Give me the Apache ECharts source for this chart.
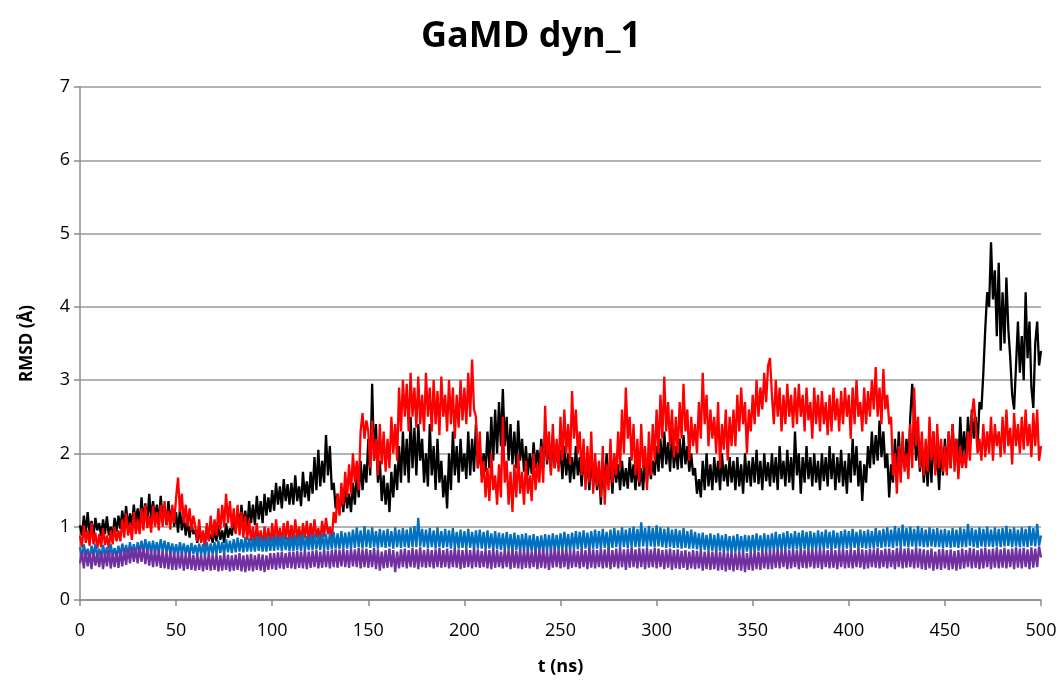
<!DOCTYPE html>
<html>
<head>
<meta charset="utf-8">
<script src="https://cdn.jsdelivr.net/npm/echarts@6/dist/echarts.min.js"></script>
<style>html,body{margin:0;padding:0;background:#fff;}#c{width:1062px;height:683px;}</style>
</head>
<body>
<div id="c"></div>
<script>
const TITLE = 'GaMD dyn_1';
const X_NAME = 't (ns)';
const Y_NAME = 'RMSD (Å)';
const T_START = 0, T_STEP = 1; // sampling grid in ns

const black = [
1.02,0.88,1.15,0.92,1.2,0.9,1.08,0.86,1.12,0.95,
1.05,0.87,1.1,0.9,1.14,0.88,1.0,0.85,1.12,0.93,
1.15,0.97,1.22,1.0,1.28,0.98,1.18,1.02,1.3,1.05,
1.25,1.02,1.4,1.08,1.32,1.05,1.45,1.1,1.35,1.12,
1.3,1.05,1.42,1.1,1.28,1.02,1.35,1.08,1.25,1.0,
1.2,0.92,1.25,0.95,1.15,0.88,1.1,0.85,1.05,0.9,
0.95,0.78,0.98,0.8,0.92,0.76,1.0,0.82,0.9,0.78,
0.96,0.8,1.02,0.82,0.95,0.78,1.05,0.85,0.98,0.88,
1.1,0.92,1.25,0.95,1.3,1.0,1.22,0.95,1.35,1.05,
1.3,1.02,1.42,1.1,1.35,1.05,1.45,1.15,1.4,1.2,
1.5,1.22,1.6,1.3,1.55,1.25,1.65,1.35,1.58,1.3,
1.6,1.3,1.7,1.35,1.55,1.28,1.75,1.4,1.62,1.35,
1.75,1.45,1.95,1.5,2.05,1.55,1.9,1.6,2.25,1.7,
2.1,1.5,1.6,1.25,1.45,1.18,1.5,1.2,1.55,1.25,
1.45,1.2,1.6,1.3,1.75,1.4,1.9,1.5,1.85,1.6,
2.2,1.7,2.95,1.9,2.4,1.6,1.9,1.35,1.7,1.3,
1.6,1.2,1.75,1.4,1.85,1.5,2.1,1.6,2.3,1.7,
2.2,1.6,2.5,1.8,2.35,1.7,2.4,1.9,2.2,1.6,
2.0,1.55,2.4,1.7,2.1,1.5,2.2,1.6,1.9,1.4,
1.7,1.25,2.0,1.5,2.3,1.7,2.1,1.6,2.2,1.75,
2.0,1.65,2.3,1.7,2.2,1.75,2.4,1.8,2.1,1.7,
2.0,1.75,2.3,1.8,2.5,1.9,2.6,2.0,2.7,2.1,
2.88,2.1,2.5,1.9,2.4,1.85,2.3,1.8,2.45,1.9,
2.2,1.75,2.1,1.7,2.0,1.72,2.15,1.8,2.05,1.78,
2.2,1.8,2.3,1.85,2.15,1.75,2.25,1.8,2.1,1.8,
2.05,1.65,2.1,1.7,2.0,1.6,1.95,1.65,2.1,1.7,
1.95,1.55,2.0,1.6,1.9,1.5,1.95,1.55,1.85,1.5,
1.8,1.3,1.9,1.55,2.0,1.6,1.85,1.45,1.95,1.6,
1.85,1.5,1.9,1.55,1.8,1.52,1.95,1.6,1.85,1.5,
1.9,1.55,1.8,1.5,1.95,1.6,2.0,1.65,1.9,1.7,
2.1,1.75,2.2,1.8,2.3,1.85,2.15,1.75,2.25,1.8,
2.1,1.78,2.2,1.8,2.25,1.85,2.1,1.75,2.0,1.7,
1.8,1.45,1.65,1.4,1.9,1.5,2.0,1.55,1.85,1.5,
1.95,1.6,1.9,1.5,2.0,1.62,1.85,1.55,1.95,1.6,
1.9,1.5,1.95,1.55,1.85,1.45,2.0,1.6,1.9,1.55,
1.95,1.6,2.05,1.58,1.9,1.5,2.0,1.62,1.88,1.55,
2.0,1.6,1.95,1.5,2.1,1.65,1.9,1.55,2.05,1.6,
1.95,1.5,2.3,1.7,2.0,1.45,1.95,1.6,2.1,1.65,
1.95,1.55,2.0,1.6,1.9,1.5,2.0,1.62,1.95,1.55,
2.1,1.65,2.0,1.5,1.95,1.6,2.05,1.55,1.9,1.45,
2.0,1.6,2.2,1.7,2.1,1.55,1.9,1.35,1.85,1.6,
2.1,1.8,2.3,1.85,2.25,1.9,2.45,1.95,2.3,1.8,
2.0,1.4,1.85,1.6,2.2,1.7,2.3,1.75,2.1,1.8,
2.2,1.85,2.5,2.95,2.4,1.9,2.2,1.75,2.1,1.6,
2.0,1.55,2.1,1.6,2.3,1.75,2.0,1.5,2.1,1.7,
2.2,1.75,2.3,1.8,2.4,1.9,2.2,1.85,2.5,1.95,
2.3,1.9,2.5,2.05,2.6,2.2,2.5,2.1,2.7,2.6,
3.1,3.7,4.2,4.0,4.88,4.1,4.5,3.6,4.6,3.4,
4.2,3.5,4.4,3.7,3.3,2.8,2.6,3.2,3.8,3.1,
3.6,3.0,4.2,3.3,3.8,2.9,2.62,3.5,3.8,3.2,
3.4
];

const red = [
0.88,0.72,1.02,0.78,0.95,0.74,1.05,0.76,0.92,0.7,
0.9,0.72,0.98,0.75,0.88,0.7,0.95,0.76,1.0,0.8,
0.95,0.8,1.1,0.85,1.18,0.88,1.05,0.82,1.2,0.9,
1.1,0.9,1.25,0.95,1.3,0.98,1.15,0.92,1.28,1.0,
1.2,0.95,1.3,1.0,1.35,1.02,1.22,0.96,1.3,1.05,
1.4,1.67,1.2,1.45,1.05,1.3,1.0,1.25,0.95,1.15,
1.0,0.8,1.1,0.78,0.95,0.72,1.05,0.8,1.15,0.85,
1.1,0.88,1.25,0.95,1.3,1.0,1.45,1.05,1.35,0.98,
1.25,0.9,1.3,0.88,1.2,0.85,1.15,0.82,1.1,0.8,
1.0,0.75,1.05,0.78,0.95,0.72,1.0,0.76,0.98,0.74,
1.05,0.78,1.1,0.8,0.98,0.76,1.05,0.82,1.08,0.8,
1.02,0.8,1.1,0.82,1.0,0.78,1.05,0.84,1.08,0.8,
1.05,0.82,1.1,0.85,0.98,0.8,1.08,0.86,1.12,0.9,
1.0,0.8,1.2,1.05,1.45,1.15,1.6,1.3,1.75,1.4,
1.85,1.45,2.0,1.6,1.9,1.5,2.3,2.55,2.2,2.45,
2.3,1.8,2.45,1.9,2.2,1.7,2.4,1.85,2.3,1.75,
2.2,1.8,2.5,2.0,2.4,1.9,2.9,2.3,3.0,2.5,
2.95,2.3,3.1,2.5,2.9,2.35,3.05,2.4,2.8,2.3,
3.1,2.5,2.9,2.3,3.0,2.4,2.85,2.25,3.05,2.5,
2.8,2.3,3.0,2.4,2.9,2.2,2.8,2.35,3.0,2.45,
2.9,2.4,3.1,2.5,3.28,2.6,2.5,1.8,2.3,1.6,
1.9,1.4,1.8,1.35,2.0,1.5,1.7,1.3,1.85,1.4,
2.5,1.6,1.9,1.3,1.75,1.2,1.85,1.4,2.0,1.45,
1.75,1.3,1.9,1.45,1.7,1.35,2.0,1.5,1.85,1.6,
2.1,1.6,2.65,1.9,2.3,1.7,2.4,1.8,2.2,1.75,
2.5,1.9,2.6,2.0,2.4,1.85,2.85,2.2,2.6,2.0,
2.3,1.7,2.2,1.5,2.1,1.6,2.3,1.45,2.0,1.55,
1.9,1.4,2.1,1.3,1.85,1.5,2.2,1.6,2.0,1.7,
2.3,1.8,2.6,2.0,2.9,2.2,2.5,1.9,2.4,1.7,
2.2,1.6,2.4,1.8,2.1,1.5,2.3,1.7,2.4,1.9,
2.6,2.0,2.8,2.2,3.05,2.3,2.7,2.1,2.6,1.95,
2.5,2.0,2.7,2.2,2.95,2.3,2.6,1.9,2.5,2.1,
2.4,2.0,2.7,2.2,3.1,2.4,2.8,2.1,2.6,2.2,
2.5,2.0,2.7,1.8,2.4,2.05,2.6,1.9,2.5,2.1,
2.6,2.1,2.8,2.3,2.9,2.4,2.7,2.0,2.6,2.3,
2.8,2.4,3.0,2.5,2.9,2.6,3.1,2.7,3.2,3.3,
2.8,2.4,3.0,2.5,2.9,2.3,2.8,2.4,2.95,2.5,
2.8,2.35,2.9,2.4,2.95,2.5,2.8,2.3,2.9,2.45,
2.7,2.2,2.9,2.4,2.8,2.3,2.85,2.4,2.7,2.25,
2.8,2.3,2.9,2.45,2.75,2.3,2.85,2.4,2.9,2.5,
2.8,2.2,2.9,2.4,3.0,2.5,2.7,2.3,2.9,2.4,
2.85,2.5,3.0,2.6,3.18,2.5,2.9,2.4,3.15,2.6,
2.8,2.4,2.5,1.7,2.0,1.45,2.1,1.6,2.3,1.75,
2.0,1.65,2.4,1.8,2.9,2.1,2.5,1.8,2.3,1.7,
2.2,1.75,2.5,1.9,2.3,1.7,2.4,1.8,2.2,1.75,
2.1,1.7,2.3,1.8,2.4,1.75,2.2,1.65,2.1,1.8,
2.0,1.8,2.3,1.9,2.5,2.75,2.4,2.0,2.2,1.9,
2.4,1.95,2.3,2.0,2.5,1.9,2.4,2.1,2.3,1.95,
2.5,2.0,2.6,2.1,2.35,1.85,2.55,2.1,2.4,2.0,
2.5,2.05,2.6,2.1,2.4,1.95,2.55,2.1,2.6,1.9,
2.1
];

const blue = [
0.72,0.58,0.76,0.6,0.7,0.56,0.74,0.6,0.77,0.58,
0.7,0.57,0.75,0.6,0.72,0.58,0.76,0.6,0.71,0.58,
0.74,0.6,0.77,0.62,0.75,0.6,0.79,0.63,0.76,0.62,
0.79,0.64,0.81,0.65,0.83,0.66,0.8,0.64,0.81,0.65,
0.79,0.64,0.83,0.66,0.81,0.65,0.79,0.63,0.77,0.62,
0.76,0.62,0.79,0.63,0.77,0.62,0.75,0.61,0.78,0.63,
0.75,0.61,0.77,0.62,0.76,0.6,0.79,0.63,0.77,0.62,
0.79,0.63,0.81,0.64,0.79,0.63,0.83,0.65,0.81,0.64,
0.83,0.65,0.85,0.66,0.83,0.65,0.86,0.66,0.84,0.66,
0.85,0.66,0.87,0.67,0.86,0.66,0.85,0.66,0.87,0.67,
0.86,0.67,0.89,0.68,0.87,0.67,0.89,0.68,0.86,0.67,
0.87,0.67,0.89,0.68,0.88,0.67,0.9,0.68,0.87,0.68,
0.89,0.68,0.91,0.69,0.89,0.68,0.91,0.69,0.9,0.68,
0.91,0.69,0.93,0.7,0.91,0.69,0.94,0.7,0.92,0.7,
0.93,0.7,0.96,0.71,0.99,0.72,0.95,0.7,1.01,0.72,
0.96,0.71,0.99,0.72,0.94,0.7,0.97,0.72,0.95,0.71,
0.97,0.72,0.94,0.7,0.99,0.72,0.96,0.71,0.98,0.72,
0.96,0.71,0.99,0.72,1.01,0.72,1.12,0.73,0.97,0.72,
0.96,0.71,0.98,0.72,0.95,0.7,0.99,0.72,0.94,0.71,
0.97,0.72,0.95,0.7,0.98,0.71,0.93,0.7,0.96,0.71,
0.94,0.7,0.97,0.71,0.93,0.69,0.95,0.7,0.96,0.7,
0.93,0.69,0.95,0.7,0.91,0.68,0.94,0.69,0.92,0.68,
0.91,0.68,0.93,0.68,0.9,0.67,0.92,0.68,0.89,0.67,
0.9,0.67,0.91,0.67,0.88,0.66,0.9,0.66,0.87,0.66,
0.88,0.66,0.9,0.67,0.89,0.66,0.91,0.68,0.89,0.67,
0.91,0.68,0.93,0.69,0.9,0.67,0.92,0.69,0.94,0.69,
0.93,0.69,0.95,0.7,0.92,0.68,0.94,0.7,0.96,0.7,
0.94,0.7,0.97,0.71,0.93,0.69,0.96,0.71,0.98,0.72,
0.95,0.71,0.99,0.72,0.96,0.71,0.98,0.72,1.0,0.72,
0.97,0.72,1.06,0.73,0.98,0.72,1.01,0.73,0.98,0.72,
1.02,0.73,0.99,0.72,0.97,0.71,0.99,0.72,0.96,0.71,
0.97,0.71,0.95,0.7,0.98,0.71,0.94,0.7,0.96,0.7,
0.93,0.69,0.91,0.68,0.92,0.68,0.89,0.67,0.91,0.67,
0.89,0.66,0.91,0.67,0.88,0.66,0.9,0.66,0.87,0.65,
0.88,0.65,0.9,0.66,0.87,0.65,0.89,0.66,0.88,0.65,
0.89,0.66,0.91,0.67,0.88,0.66,0.91,0.67,0.89,0.66,
0.91,0.67,0.93,0.68,0.9,0.67,0.92,0.68,0.94,0.69,
0.91,0.68,0.94,0.69,0.92,0.68,0.95,0.69,0.93,0.68,
0.94,0.69,0.92,0.68,0.95,0.7,0.93,0.69,0.96,0.7,
0.93,0.69,0.95,0.7,0.92,0.69,0.94,0.7,0.96,0.7,
0.94,0.7,0.97,0.71,0.93,0.7,0.96,0.71,0.94,0.7,
0.96,0.71,0.94,0.7,0.98,0.72,0.95,0.71,0.97,0.72,
0.99,0.72,0.96,0.71,1.01,0.73,0.98,0.72,1.03,0.73,
0.98,0.72,1.0,0.73,0.97,0.72,1.01,0.73,0.98,0.72,
0.96,0.72,0.99,0.73,0.97,0.72,0.98,0.72,0.96,0.71,
0.97,0.72,0.95,0.71,0.98,0.72,0.96,0.71,0.99,0.72,
0.97,0.72,1.04,0.74,0.98,0.72,0.96,0.71,0.99,0.73,
0.97,0.72,1.0,0.73,0.96,0.72,0.99,0.73,0.97,0.72,
0.98,0.73,1.01,0.74,0.97,0.72,0.99,0.73,0.96,0.72,
0.99,0.73,0.97,0.72,1.01,0.74,0.98,0.73,1.04,0.74,
0.88
];

const purple = [
0.5,0.66,0.43,0.68,0.46,0.64,0.42,0.67,0.47,0.63,
0.45,0.66,0.42,0.65,0.46,0.68,0.43,0.64,0.45,0.66,
0.44,0.67,0.46,0.69,0.48,0.7,0.5,0.72,0.52,0.7,
0.5,0.73,0.52,0.71,0.49,0.7,0.47,0.68,0.45,0.69,
0.46,0.68,0.44,0.67,0.43,0.66,0.42,0.67,0.41,0.65,
0.41,0.64,0.43,0.66,0.4,0.63,0.42,0.65,0.41,0.62,
0.4,0.63,0.41,0.62,0.39,0.61,0.41,0.64,0.4,0.62,
0.41,0.63,0.39,0.61,0.4,0.64,0.41,0.62,0.39,0.61,
0.4,0.62,0.41,0.64,0.39,0.61,0.38,0.62,0.4,0.63,
0.39,0.61,0.41,0.63,0.4,0.62,0.38,0.61,0.41,0.64,
0.42,0.64,0.41,0.65,0.43,0.66,0.42,0.64,0.44,0.66,
0.43,0.66,0.42,0.67,0.44,0.66,0.43,0.68,0.42,0.66,
0.44,0.67,0.45,0.68,0.43,0.66,0.44,0.69,0.45,0.67,
0.43,0.68,0.45,0.69,0.44,0.68,0.46,0.7,0.45,0.68,
0.44,0.7,0.46,0.69,0.45,0.71,0.43,0.69,0.45,0.7,
0.44,0.68,0.45,0.71,0.42,0.69,0.4,0.66,0.43,0.68,
0.44,0.7,0.45,0.68,0.38,0.66,0.43,0.69,0.45,0.7,
0.43,0.68,0.45,0.71,0.44,0.69,0.42,0.72,0.45,0.68,
0.44,0.7,0.45,0.68,0.43,0.69,0.45,0.71,0.44,0.68,
0.45,0.7,0.43,0.68,0.45,0.71,0.44,0.69,0.42,0.68,
0.44,0.7,0.45,0.68,0.43,0.71,0.45,0.69,0.44,0.67,
0.45,0.69,0.43,0.68,0.42,0.7,0.44,0.68,0.45,0.66,
0.43,0.69,0.45,0.68,0.42,0.7,0.44,0.67,0.43,0.69,
0.42,0.68,0.44,0.7,0.43,0.66,0.45,0.69,0.42,0.68,
0.44,0.7,0.43,0.67,0.41,0.69,0.44,0.71,0.45,0.68,
0.43,0.69,0.45,0.7,0.42,0.68,0.44,0.69,0.45,0.67,
0.43,0.7,0.45,0.68,0.42,0.71,0.44,0.69,0.43,0.68,
0.45,0.7,0.43,0.69,0.44,0.71,0.42,0.68,0.45,0.7,
0.43,0.71,0.45,0.69,0.41,0.7,0.44,0.72,0.45,0.69,
0.43,0.71,0.45,0.7,0.42,0.72,0.44,0.69,0.45,0.71,
0.43,0.7,0.45,0.68,0.42,0.69,0.44,0.7,0.41,0.68,
0.43,0.69,0.42,0.67,0.44,0.68,0.41,0.66,0.43,0.68,
0.42,0.67,0.43,0.68,0.4,0.66,0.42,0.67,0.41,0.66,
0.42,0.68,0.4,0.66,0.41,0.67,0.39,0.65,0.41,0.66,
0.39,0.65,0.41,0.66,0.4,0.67,0.38,0.64,0.41,0.66,
0.4,0.67,0.42,0.66,0.41,0.68,0.43,0.67,0.42,0.68,
0.42,0.68,0.44,0.7,0.43,0.68,0.45,0.69,0.42,0.68,
0.43,0.69,0.45,0.68,0.42,0.7,0.44,0.68,0.43,0.69,
0.45,0.7,0.43,0.68,0.44,0.71,0.42,0.69,0.45,0.68,
0.43,0.7,0.44,0.68,0.42,0.69,0.45,0.7,0.43,0.68,
0.44,0.7,0.43,0.68,0.45,0.71,0.44,0.69,0.42,0.68,
0.43,0.7,0.45,0.69,0.44,0.71,0.43,0.68,0.45,0.7,
0.43,0.7,0.45,0.68,0.42,0.71,0.45,0.72,0.43,0.7,
0.44,0.71,0.45,0.69,0.43,0.72,0.44,0.7,0.42,0.69,
0.41,0.68,0.43,0.7,0.4,0.66,0.42,0.69,0.41,0.7,
0.43,0.68,0.41,0.69,0.42,0.67,0.4,0.68,0.42,0.7,
0.43,0.68,0.45,0.71,0.43,0.7,0.44,0.68,0.42,0.7,
0.43,0.71,0.45,0.69,0.42,0.7,0.44,0.72,0.43,0.69,
0.44,0.71,0.43,0.69,0.45,0.7,0.42,0.72,0.44,0.7,
0.43,0.71,0.45,0.69,0.42,0.72,0.44,0.7,0.45,0.73,
0.58
];

const seriesDefs = [
  {name: 'black', data: black, color: '#000000'},
  {name: 'red', data: red, color: '#FF0000'},
  {name: 'blue', data: blue, color: '#0070C0'},
  {name: 'purple', data: purple, color: '#7030A0'}
];

function pairs(arr) { return arr.map((v, i) => [T_START + i * T_STEP, v]); }

const FONT = '"Open Sans", "Noto Sans", sans-serif';
const chart = echarts.init(document.getElementById('c'), null, {renderer: 'canvas'});
chart.setOption({
  animation: false,
  backgroundColor: '#ffffff',
  title: {
    text: TITLE, left: 'center', top: 14,
    textStyle: {fontFamily: FONT, fontWeight: 'bold', fontSize: 36, color: '#000'}
  },
  grid: {left: 80, right: 21, top: 87, bottom: 83},
  xAxis: {
    type: 'value', min: 0, max: 500, interval: 50,
    name: X_NAME, nameLocation: 'middle', nameGap: 58,
    nameTextStyle: {fontFamily: FONT, fontWeight: 'bold', fontSize: 18, color: '#000'},
    axisLine: {lineStyle: {color: '#8c8c8c', width: 1.5}},
    axisTick: {show: true, length: 6, lineStyle: {color: '#8c8c8c', width: 1.5}},
    axisLabel: {fontFamily: FONT, fontSize: 18, color: '#000', margin: 22},
    splitLine: {show: false}
  },
  yAxis: {
    type: 'value', min: 0, max: 7, interval: 1,
    name: Y_NAME, nameLocation: 'middle', nameGap: 44, nameRotate: 90,
    nameTextStyle: {fontFamily: FONT, fontWeight: 'bold', fontSize: 17, color: '#000'},
    axisLine: {show: true, lineStyle: {color: '#8c8c8c', width: 1.5}},
    axisTick: {show: true, length: 6, lineStyle: {color: '#8c8c8c', width: 1.5}},
    axisLabel: {fontFamily: FONT, fontSize: 18, color: '#000', margin: 10},
    splitLine: {show: true, lineStyle: {color: '#9a9a9a', width: 1.5}}
  },
  series: seriesDefs.map(s => ({
    name: s.name, type: 'line', data: pairs(s.data), showSymbol: false, symbol: 'none',
    sampling: null, lineStyle: {color: s.color, width: 2.3}, itemStyle: {color: s.color}
  }))
});
</script>
</body>
</html>
